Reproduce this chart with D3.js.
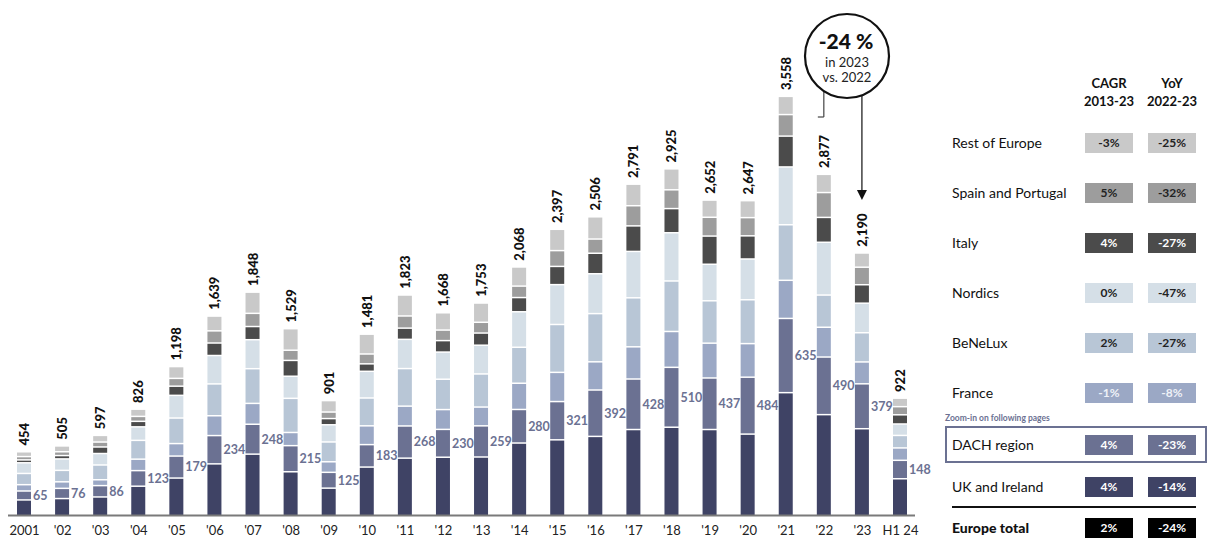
<!DOCTYPE html>
<html>
<head>
<meta charset="utf-8">
<script src="https://cdn.jsdelivr.net/npm/d3@7"></script>
<style>
  html, body { margin: 0; padding: 0; background: #fff; }
  svg { display: block; font-family: Lato, "Open Sans", sans-serif; }
</style>
</head>
<body>
<svg id="chart" width="1208" height="540"></svg>
<script>
// ---------- DATA ----------
const categories = ["2001","'02","'03","'04","'05","'06","'07","'08","'09","'10","'11","'12","'13","'14","'15","'16","'17","'18","'19","'20","'21","'22","'23","H1 24"];
const totals = [454,505,597,826,1198,1639,1848,1529,901,1481,1823,1668,1753,2068,2397,2506,2791,2925,2652,2647,3558,2877,2190,922];
const ukIreland = [125,137,151,245,316,440,525,371,228,412,490,498,500,622,650,680,740,760,740,700,1062,870,747,310];
const dach      = [65,76,86,123,179,234,248,215,125,183,268,230,259,280,321,392,428,510,437,484,635,490,379,148];
const france    = [42,44,38,87,96,160,169,102,79,151,160,160,151,216,242,233,268,300,291,280,320,247,178,95];
const benelux   = [85,87,116,151,210,265,290,285,160,230,315,252,276,301,405,408,415,428,357,370,472,268,242,96];
const nordics   = [80,87,87,105,185,235,240,180,137,220,242,224,238,297,335,335,392,408,306,343,492,448,245,87];
const italy     = [12,16,44,35,67,96,102,125,41,52,85,87,93,111,146,166,210,198,233,189,256,204,148,67];
const spainPort = [16,20,30,30,55,93,102,76,44,73,93,79,81,87,125,111,163,151,151,146,175,204,140,58];
const restEur   = [29,38,45,50,90,116,172,175,87,160,170,138,155,154,173,181,175,170,137,135,146,146,111,61];

const regions = ["Rest of Europe","Spain and Portugal","Italy","Nordics","BeNeLux","France","DACH region","UK and Ireland","Europe total"];
const cagr = ["-3%","5%","4%","0%","2%","-1%","4%","4%","2%"];
const yoy  = ["-25%","-32%","-27%","-47%","-27%","-8%","-23%","-14%","-24%"];
const calloutLines = ["-24 %","in 2023","vs. 2022"];

// ---------- STYLE / LAYOUT ----------
const seriesKeys = ["uk","dach","france","benelux","nordics","italy","spain","rest"];
const seriesData = {uk: ukIreland, dach: dach, france: france, benelux: benelux, nordics: nordics, italy: italy, spain: spainPort, rest: restEur};
const colors = {uk:"#3f4365", dach:"#6b7192", france:"#9ba8c5", benelux:"#b8c6d6", nordics:"#d5dfe7", italy:"#4b4b4b", spain:"#9d9d9d", rest:"#c9c9c9"};

const svg = d3.select("#chart");
const baseY = 515;
const gap = 1.5;
const barW = 14;

const x = d3.scalePoint().domain(categories).range([24, 900]);
const y = d3.scaleLinear().domain([0, 3558]).range([baseY, baseY - 3558 * 0.1145]);

const rows = categories.map((c, i) => {
  const r = {cat: c};
  seriesKeys.forEach(k => r[k] = seriesData[k][i]);
  return r;
});
const stacked = d3.stack().keys(seriesKeys)(rows);

const gBars = svg.append("g");
stacked.forEach((layer, li) => {
  gBars.selectAll(null).data(layer).enter().append("rect")
    .attr("x", d => x(d.data.cat) - barW / 2)
    .attr("width", barW)
    .attr("y", d => y(d[1]) - li * gap - (li === seriesKeys.length - 1 ? 0 : 0))
    .attr("height", d => Math.max(0.5, y(d[0]) - y(d[1])))
    .attr("fill", colors[layer.key])
    .each(function(d) {
      // shift up by gaps accumulated below this segment
      d3.select(this).attr("y", y(d[1]) - li * gap);
    });
});

// axis baseline
svg.append("line").attr("x1", 8).attr("x2", 915).attr("y1", baseY + 0.5).attr("y2", baseY + 0.5)
  .attr("stroke", "#7a7a7a").attr("stroke-width", 2);

// x axis labels via d3 axis
const xAxis = d3.axisBottom(x).tickSize(0).tickPadding(0);
const gx = svg.append("g").attr("transform", `translate(0, ${baseY + 11})`).call(xAxis);
gx.select(".domain").remove();
gx.selectAll("text").attr("font-size", 13).attr("fill", "#222").attr("font-family", "Lato, sans-serif").attr("dy", "0.71em");

// total labels (rotated)
const topOf = i => y(d3.sum(seriesKeys, k => seriesData[k][i])) - (seriesKeys.length - 1) * gap;
svg.append("g").selectAll("text").data(categories).enter().append("text")
  .attr("transform", (c, i) => `translate(${x(c) + 5}, ${topOf(i) - 7}) rotate(-90)`)
  .attr("font-size", 13).attr("font-weight", 900).attr("fill", "#111")
  .attr("text-anchor", "start")
  .text((c, i) => d3.format(",")(totals[i]));

// DACH labels
const dachLayer = stacked[1];
svg.append("g").selectAll("text").data(dachLayer).enter().append("text")
  .attr("x", d => x(d.data.cat) + barW / 2 + 2)
  .attr("y", d => (y(d[1]) + y(d[0])) / 2 - gap)
  .attr("dy", "0.35em")
  .attr("font-size", 12.5).attr("font-weight", 700).attr("fill", "#6b7192")
  .text(d => d.data.dach);

// callout
const cx = 847, cy = 56, cr = 42;
const i22 = categories.indexOf("'22"), i23 = categories.indexOf("'23");
const x22 = x("'22"), x23 = x("'23");
svg.append("line").attr("x1", x22).attr("x2", x22).attr("y1", cy + Math.sqrt(cr*cr - (x22-cx)*(x22-cx))).attr("y2", 117)
  .attr("stroke", "#444").attr("stroke-width", 1.2);
svg.append("line").attr("x1", x22 - 6).attr("x2", x22).attr("y1", 117).attr("y2", 117)
  .attr("stroke", "#444").attr("stroke-width", 1.2);
svg.append("line").attr("x1", x23).attr("x2", x23).attr("y1", cy + Math.sqrt(cr*cr - (x23-cx)*(x23-cx))).attr("y2", 192)
  .attr("stroke", "#222").attr("stroke-width", 1.3);
svg.append("path").attr("d", `M${x23-5},${190} L${x23+5},${190} L${x23},${200} Z`).attr("fill", "#111");
svg.append("circle").attr("cx", cx).attr("cy", cy).attr("r", cr).attr("fill", "#fff").attr("stroke", "#111").attr("stroke-width", 2.2);
svg.append("text").attr("x", cx - 1).attr("y", 49).attr("text-anchor", "middle").attr("font-size", 21).attr("font-weight", 900).attr("fill", "#111").text(calloutLines[0]);
svg.append("text").attr("x", cx).attr("y", 67).attr("text-anchor", "middle").attr("font-size", 13).attr("fill", "#222").text(calloutLines[1]);
svg.append("text").attr("x", cx).attr("y", 82).attr("text-anchor", "middle").attr("font-size", 13).attr("fill", "#222").text(calloutLines[2]);

// ---------- TABLE ----------
const rowY = [143,193,243,293,343,393,445,487,528];
const boxColors = [colors.rest, colors.spain, colors.italy, colors.nordics, colors.benelux, colors.france, colors.dach, colors.uk, "#000"];
const boxText = ["#222","#222","#fff","#222","#222","#eef1f7","#fff","#fff","#fff"];
const colX = [1109, 1172];
const boxW = 48, boxH = 20;

const gT = svg.append("g");
[["CAGR","2013-23"],["YoY","2022-23"]].forEach((h, j) => {
  gT.append("text").attr("x", colX[j]).attr("y", 88).attr("text-anchor", "middle").attr("font-size", 13).attr("font-weight", 700).attr("fill", "#111").text(h[0]);
  gT.append("text").attr("x", colX[j]).attr("y", 106).attr("text-anchor", "middle").attr("font-size", 13).attr("font-weight", 700).attr("fill", "#111").text(h[1]);
});

regions.forEach((r, i) => {
  const yy = rowY[i];
  gT.append("text").attr("x", 952).attr("y", yy).attr("dy", "0.35em")
    .attr("font-size", 14).attr("font-weight", i === 8 ? 900 : 400).attr("fill", "#111").text(r);
  [cagr[i], yoy[i]].forEach((v, j) => {
    gT.append("rect").attr("x", colX[j] - boxW / 2).attr("y", yy - boxH / 2).attr("width", boxW).attr("height", boxH).attr("fill", boxColors[i]);
    gT.append("text").attr("x", colX[j]).attr("y", yy).attr("dy", "0.36em").attr("text-anchor", "middle")
      .attr("font-size", 12).attr("font-weight", 700).attr("fill", boxText[i]).text(v);
  });
});
// zoom-in note & DACH frame
gT.append("text").attr("x", 945).attr("y", 421).attr("font-size", 8.5).attr("font-weight", 700).attr("fill", "#6b7192").text("Zoom-in on following pages");
gT.append("rect").attr("x", 946).attr("y", 427).attr("width", 260).attr("height", 35).attr("fill", "none").attr("stroke", "#6b7192").attr("stroke-width", 2);
// separator above total
gT.append("line").attr("x1", 952).attr("x2", 1196).attr("y1", 507).attr("y2", 507).attr("stroke", "#111").attr("stroke-width", 2);
</script>
</body>
</html>
